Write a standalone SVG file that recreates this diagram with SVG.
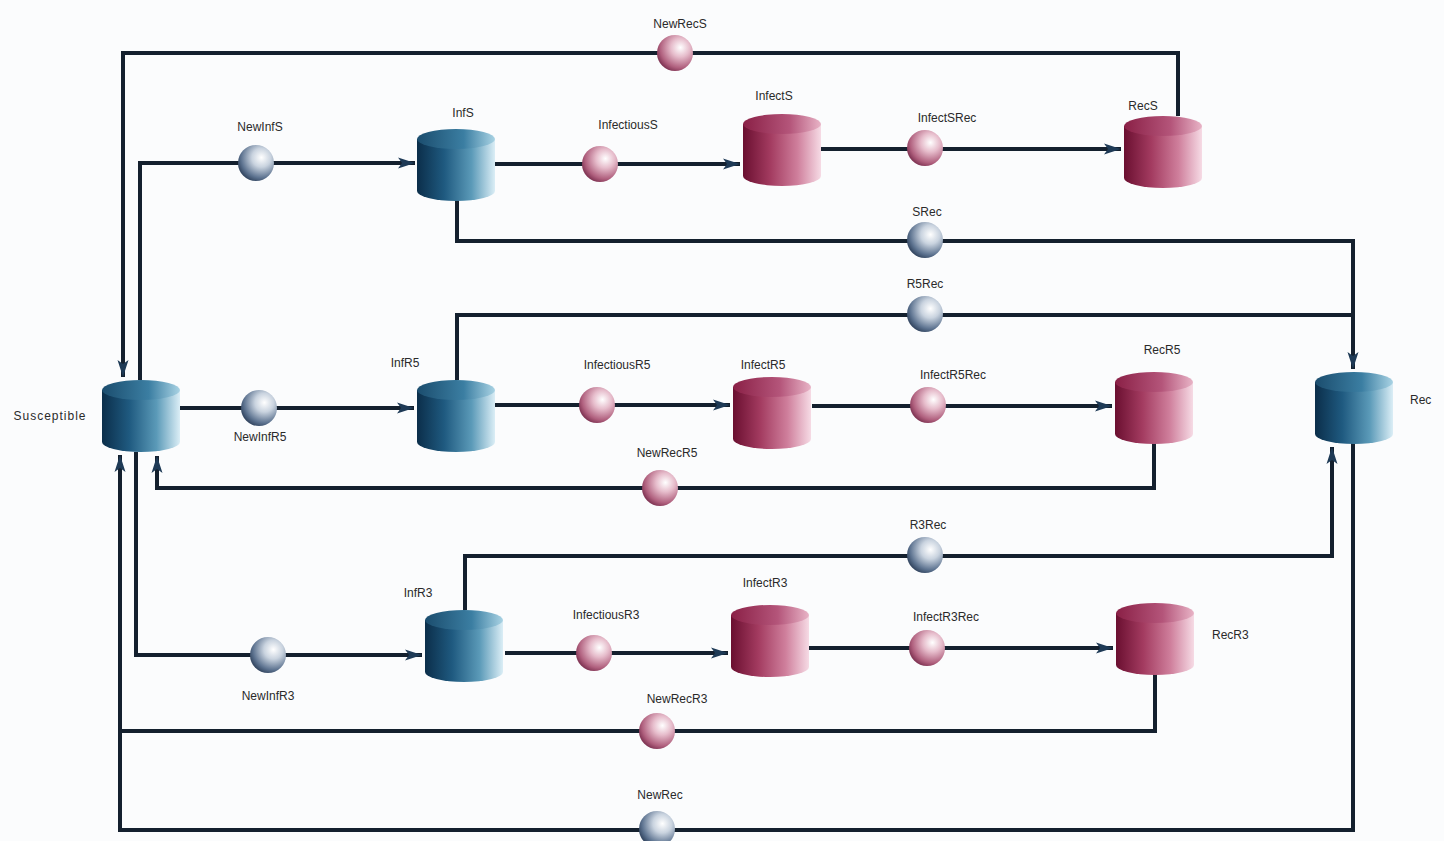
<svg xmlns="http://www.w3.org/2000/svg" xmlns:xlink="http://www.w3.org/1999/xlink" width="1444" height="841" viewBox="0 0 1444 841">
<style>
.ln{fill:none;stroke:#14202e;stroke-width:4;stroke-linejoin:miter}
.ar{marker-end:url(#arr)}
.lbl{font-family:"Liberation Sans",Arial,sans-serif;font-size:12px;fill:#2a2a2a;text-anchor:middle}
.st{text-anchor:start}
</style>
<defs>
<linearGradient id="bBody" x1="0" y1="0" x2="1" y2="0">
<stop offset="0" stop-color="#0b2e4a"/><stop offset="0.35" stop-color="#1f5a80"/><stop offset="0.7" stop-color="#5b9ab8"/><stop offset="1" stop-color="#dbeef6"/>
</linearGradient>
<linearGradient id="bTop" x1="0" y1="0" x2="1" y2="0">
<stop offset="0" stop-color="#1b4d6e"/><stop offset="0.6" stop-color="#3b7ea2"/><stop offset="1" stop-color="#a9d3e4"/>
</linearGradient>
<linearGradient id="pBody" x1="0" y1="0" x2="1" y2="0">
<stop offset="0" stop-color="#6a0f30"/><stop offset="0.35" stop-color="#a33b60"/><stop offset="0.7" stop-color="#cf7f9c"/><stop offset="1" stop-color="#f6dbe5"/>
</linearGradient>
<linearGradient id="pTop" x1="0" y1="0" x2="1" y2="0">
<stop offset="0" stop-color="#8a2046"/><stop offset="0.6" stop-color="#b4557a"/><stop offset="1" stop-color="#e8b3c6"/>
</linearGradient>
<radialGradient id="bSph" cx="0.65" cy="0.35" r="0.75">
<stop offset="0" stop-color="#ffffff"/><stop offset="0.35" stop-color="#c9d3df"/><stop offset="0.75" stop-color="#5d7390"/><stop offset="1" stop-color="#243650"/>
</radialGradient>
<radialGradient id="pSph" cx="0.65" cy="0.35" r="0.75">
<stop offset="0" stop-color="#ffffff"/><stop offset="0.35" stop-color="#e6bccb"/><stop offset="0.75" stop-color="#b0607e"/><stop offset="1" stop-color="#6e2444"/>
</radialGradient>
<g id="cylB">
<path d="M0,10 V62 A39,10 0 0 0 78,62 V10 Z" fill="url(#bBody)"/>
<ellipse cx="39" cy="10" rx="39" ry="10" fill="url(#bTop)"/>
</g>
<g id="cylP">
<path d="M0,10 V62 A39,10 0 0 0 78,62 V10 Z" fill="url(#pBody)"/>
<ellipse cx="39" cy="10" rx="39" ry="10" fill="url(#pTop)"/>
</g>
<circle id="sphB" r="18" fill="url(#bSph)"/>
<circle id="sphP" r="18" fill="url(#pSph)"/>
<marker id="arr" markerUnits="userSpaceOnUse" markerWidth="18" markerHeight="14" refX="17" refY="7" orient="auto">
<path d="M0,1.5 L17,7 L0,12.5 L4,7 Z" fill="#1e3a56"/>
</marker>
</defs>
<rect width="1444" height="841" fill="#fbfcfd"/>

<g id="connectors">
<path class="ln ar" d="M1178,116 V53 H123 V377"/>
<path class="ln ar" d="M140,380 V163 H415"/>
<path class="ln ar" d="M495,164 H740"/>
<path class="ln ar" d="M821,149 H1121"/>
<path class="ln ar" d="M457,200 V241 H1353 V369"/>
<path class="ln" d="M457,380 V315 H1353"/>
<path class="ln ar" d="M180,408 H414"/>
<path class="ln ar" d="M495,405 H730"/>
<path class="ln ar" d="M812,406 H1112"/>
<path class="ln ar" d="M1154,443 V488 H157 V456"/>
<path class="ln ar" d="M465,610 V556 H1332 V447"/>
<path class="ln ar" d="M136,452 V655 H422"/>
<path class="ln ar" d="M505,653 H728"/>
<path class="ln ar" d="M808,648 H1113"/>
<path class="ln" d="M1155,673 V731 H120"/>
<path class="ln ar" d="M1353,442 V830 H120 V455"/>
</g>

<g id="Susceptible"><use xlink:href="#cylB" x="102" y="380"/><text class="lbl" x="50" y="420" letter-spacing="1">Susceptible</text></g>
<g id="InfS"><use xlink:href="#cylB" x="417" y="129"/><text class="lbl" x="463" y="117">InfS</text></g>
<g id="InfectS"><use xlink:href="#cylP" x="743" y="114"/><text class="lbl" x="774" y="100">InfectS</text></g>
<g id="RecS"><use xlink:href="#cylP" x="1124" y="116"/><text class="lbl" x="1143" y="110">RecS</text></g>
<g id="InfR5"><use xlink:href="#cylB" x="417" y="380"/><text class="lbl" x="405" y="367">InfR5</text></g>
<g id="InfectR5"><use xlink:href="#cylP" x="733" y="377"/><text class="lbl" x="763" y="369">InfectR5</text></g>
<g id="RecR5"><use xlink:href="#cylP" x="1115" y="372"/><text class="lbl" x="1162" y="354">RecR5</text></g>
<g id="Rec"><use xlink:href="#cylB" x="1315" y="372"/><text class="lbl st" x="1410" y="404">Rec</text></g>
<g id="InfR3"><use xlink:href="#cylB" x="425" y="610"/><text class="lbl" x="418" y="597">InfR3</text></g>
<g id="InfectR3"><use xlink:href="#cylP" x="731" y="605"/><text class="lbl" x="765" y="587">InfectR3</text></g>
<g id="RecR3"><use xlink:href="#cylP" x="1116" y="603"/><text class="lbl st" x="1212" y="639">RecR3</text></g>

<g id="NewRecS"><use xlink:href="#sphP" x="675" y="53"/><text class="lbl" x="680" y="28">NewRecS</text></g>
<g id="NewInfS"><use xlink:href="#sphB" x="256" y="163"/><text class="lbl" x="260" y="131">NewInfS</text></g>
<g id="InfectiousS"><use xlink:href="#sphP" x="600" y="164"/><text class="lbl" x="628" y="129">InfectiousS</text></g>
<g id="InfectSRec"><use xlink:href="#sphP" x="925" y="148"/><text class="lbl" x="947" y="122">InfectSRec</text></g>
<g id="SRec"><use xlink:href="#sphB" x="925" y="240"/><text class="lbl" x="927" y="216">SRec</text></g>
<g id="R5Rec"><use xlink:href="#sphB" x="925" y="314"/><text class="lbl" x="925" y="288">R5Rec</text></g>
<g id="NewInfR5"><use xlink:href="#sphB" x="259" y="408"/><text class="lbl" x="260" y="441">NewInfR5</text></g>
<g id="InfectiousR5"><use xlink:href="#sphP" x="597" y="405"/><text class="lbl" x="617" y="369">InfectiousR5</text></g>
<g id="InfectR5Rec"><use xlink:href="#sphP" x="928" y="405"/><text class="lbl" x="953" y="379">InfectR5Rec</text></g>
<g id="NewRecR5"><use xlink:href="#sphP" x="660" y="488"/><text class="lbl" x="667" y="457">NewRecR5</text></g>
<g id="R3Rec"><use xlink:href="#sphB" x="925" y="555"/><text class="lbl" x="928" y="529">R3Rec</text></g>
<g id="NewInfR3"><use xlink:href="#sphB" x="268" y="655"/><text class="lbl" x="268" y="700">NewInfR3</text></g>
<g id="InfectiousR3"><use xlink:href="#sphP" x="594" y="653"/><text class="lbl" x="606" y="619">InfectiousR3</text></g>
<g id="InfectR3Rec"><use xlink:href="#sphP" x="927" y="648"/><text class="lbl" x="946" y="621">InfectR3Rec</text></g>
<g id="NewRecR3"><use xlink:href="#sphP" x="657" y="731"/><text class="lbl" x="677" y="703">NewRecR3</text></g>
<g id="NewRec"><use xlink:href="#sphB" x="657" y="829"/><text class="lbl" x="660" y="799">NewRec</text></g>
</svg>
